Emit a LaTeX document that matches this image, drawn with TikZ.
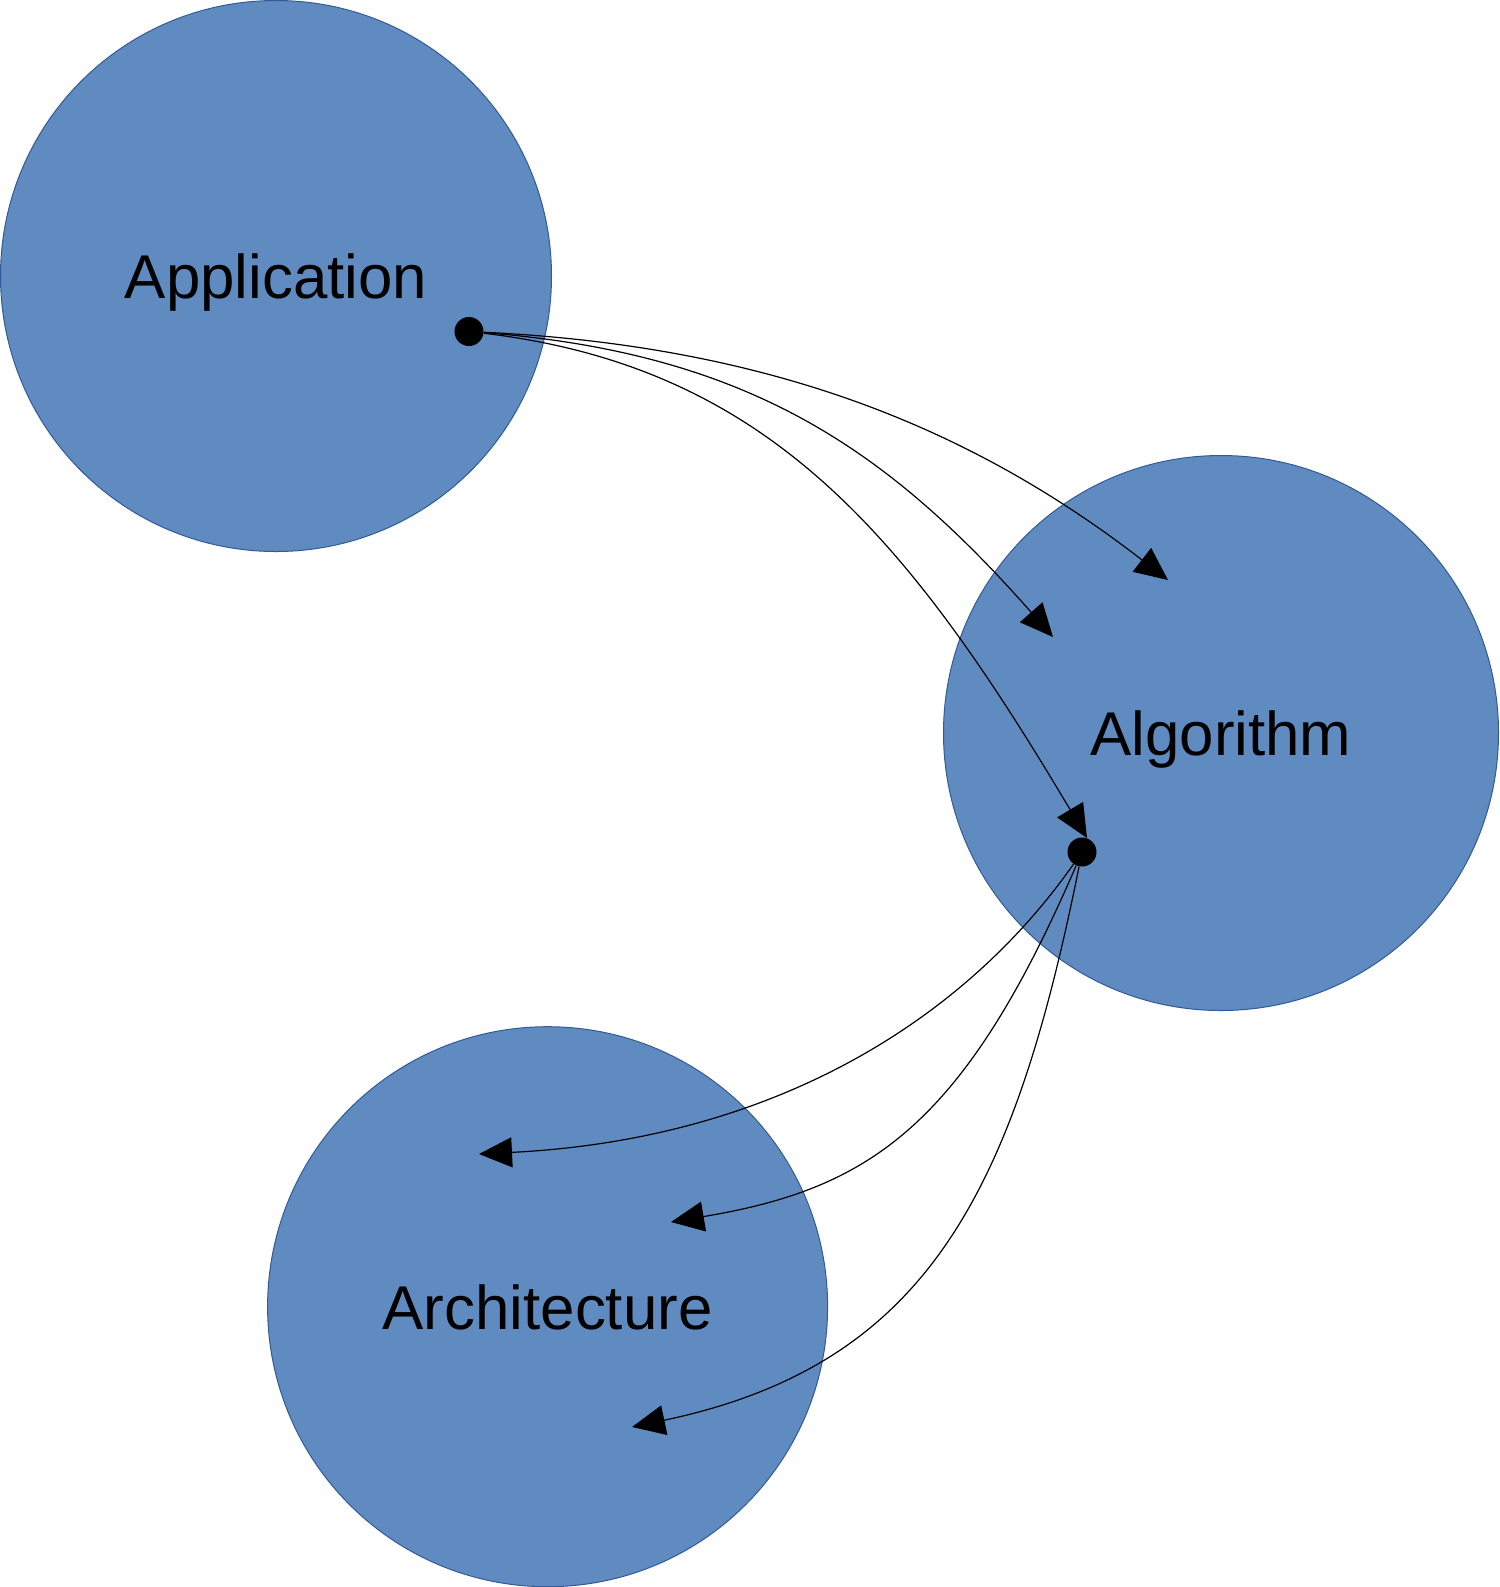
\documentclass[tikz,border=0pt]{standalone}
\usepackage{fontspec}
\setmainfont{Liberation Sans}
\usetikzlibrary{arrows.meta}
\definecolor{cfill}{RGB}{95,139,193}
\definecolor{cline}{RGB}{50,90,150}
\begin{document}
\begin{tikzpicture}[x=0.5pt,y=-0.5pt,
  bigcirc/.style={circle,fill=cfill,draw=cline,line width=0.5pt,inner sep=0pt,
    text depth=0pt,font=\fontsize{30.9}{36}\selectfont},
  dotnode/.style={circle,fill=black,inner sep=0pt,minimum size=14.5pt},
  conn/.style={line width=0.6pt,-{Triangle[length=16.5pt,width=15pt]}}]
\useasboundingbox (0,0) rectangle (1500,1587);
\node[bigcirc,minimum size=275.5pt] (app) at (276,276) {Application};
\node[bigcirc,minimum size=277.5pt] (alg) at (1221,733) {Algorithm};
\node[bigcirc,minimum size=280pt] (arc) at (547.6,1306.7) {Architecture};
\node[dotnode] (d1) at (469,331.5) {};
\node[dotnode] (d2) at (1082,852) {};
\coordinate (t1) at (1168,580);
\coordinate (t2) at (1053,637);
\coordinate (t3) at (1087,838);
\coordinate (t4) at (479,1154);
\coordinate (t5) at (671,1222);
\coordinate (t6) at (632,1427);
\draw[conn] (d1) .. controls (769,346) and (970,427) .. (t1);
\draw[conn] (d1) .. controls (749,353) and (888,450) .. (t2);
\draw[conn] (d1) .. controls (769,367) and (908,537) .. (t3);
\draw[conn] (d2) .. controls (967,1016) and (779,1139) .. (t4);
\draw[conn] (d2) .. controls (963,1128) and (868,1189) .. (t5);
\draw[conn] (d2) .. controls (1013,1195) and (926,1365) .. (t6);
\end{tikzpicture}
\end{document}
